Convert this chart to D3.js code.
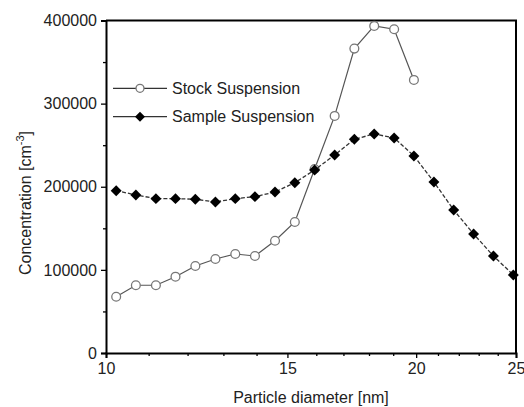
<!DOCTYPE html>
<html>
<head>
<meta charset="utf-8">
<script src="https://cdn.jsdelivr.net/npm/d3@7"></script>
<style>
  body { margin: 0; background: #fff; }
  svg { display: block; font-family: "Liberation Sans", Arial, sans-serif; }
</style>
</head>
<body>
<div id="chart"></div>
<script>
// particle diameters [nm] (log spaced channels)
const diameters = [10.23, 10.69, 11.18, 11.68, 12.21, 12.77, 13.35, 13.95, 14.59, 15.25,
                   15.94, 16.67, 17.42, 18.21, 19.04, 19.90, 20.81, 21.75, 22.74, 23.77, 24.85];
const stockValues = [67700, 81500, 81500, 91800, 104700, 113100, 119100, 116700, 135100, 157600,
                     221400, 285200, 366200, 393500, 389500, 328500];
const sampleValues = [195300, 190100, 185700, 185700, 185000, 181700, 185700, 188100, 193700, 204900,
                      220200, 238300, 257200, 263500, 258700, 237100, 205800, 172100, 143200, 116700, 93900];
const xTicks = [10, 15, 20, 25];
const xMinorTicks = [11, 12, 13, 14, 16, 17, 18, 19, 21, 22, 23, 24];
const yTicks = [0, 100000, 200000, 300000, 400000];
const yMinorTicks = [50000, 150000, 250000, 350000];

const W = 524, H = 407;
const margin = { top: 20.5, right: 8, bottom: 54, left: 106 };
const width = W - margin.left - margin.right;
const height = H - margin.top - margin.bottom;

const svg = d3.select("#chart").append("svg")
    .attr("width", W)
    .attr("height", H);

const g = svg.append("g")
    .attr("transform", `translate(${margin.left},${margin.top})`);

const x = d3.scaleLog().domain([10, 25]).range([0, width]);
const y = d3.scaleLinear().domain([0, 400000]).range([height, 0]);

const stock = stockValues.map((v, i) => ({ d: diameters[i], v }));
const sample = sampleValues.map((v, i) => ({ d: diameters[i], v }));

// frame (top + right)
g.append("path")
    .attr("d", `M0,0H${width}V${height}`)
    .attr("fill", "none")
    .attr("stroke", "#000")
    .attr("stroke-width", 2);

// x axis
const xAxis = g.append("g")
    .attr("transform", `translate(0,${height})`)
    .call(d3.axisBottom(x).tickValues(xTicks).tickFormat(d3.format("d")).tickSize(5).tickPadding(5));
g.append("g")
    .attr("transform", `translate(0,${height})`)
    .call(d3.axisBottom(x).tickValues(xMinorTicks).tickFormat("").tickSize(3).tickSizeOuter(0))
    .select(".domain").remove();

// y axis
const yAxis = g.append("g")
    .call(d3.axisLeft(y).tickValues(yTicks).tickFormat(d3.format("d")).tickSize(5).tickPadding(4));
g.append("g")
    .call(d3.axisLeft(y).tickValues(yMinorTicks).tickFormat("").tickSize(3).tickSizeOuter(0))
    .select(".domain").remove();

g.selectAll(".domain").attr("stroke-width", 2);
g.selectAll(".tick line").attr("stroke-width", 1.3);
g.selectAll(".tick text").attr("font-size", 16).attr("fill", "#222")
    .attr("font-family", "'Liberation Sans', Arial, sans-serif");

// stock suspension
const line = d3.line().x(d => x(d.d)).y(d => y(d.v));
g.append("path")
    .datum(stock)
    .attr("d", line)
    .attr("fill", "none")
    .attr("stroke", "#555")
    .attr("stroke-width", 1.2);
g.selectAll(".stock")
    .data(stock)
    .enter().append("circle")
    .attr("class", "stock")
    .attr("cx", d => x(d.d))
    .attr("cy", d => y(d.v))
    .attr("r", 4.4)
    .attr("fill", "#fff")
    .attr("stroke", "#777")
    .attr("stroke-width", 1.3);

// sample suspension
g.append("path")
    .datum(sample)
    .attr("d", line)
    .attr("fill", "none")
    .attr("stroke", "#333")
    .attr("stroke-width", 1.3)
    .attr("stroke-dasharray", "4,2");
const diamond = d3.symbol().type(d3.symbolSquare).size(60);
g.selectAll(".sample")
    .data(sample)
    .enter().append("path")
    .attr("class", "sample")
    .attr("d", diamond)
    .attr("transform", d => `translate(${x(d.d)},${y(d.v)}) rotate(45)`)
    .attr("fill", "#000");

// legend
const legend = svg.append("g").attr("font-size", 16).attr("fill", "#222");
const rows = [
    { label: "Stock Suspension", y: 88.3, type: "circle" },
    { label: "Sample Suspension", y: 116.7, type: "diamond" }
];
rows.forEach(r => {
    legend.append("line")
        .attr("x1", 113).attr("x2", 167)
        .attr("y1", r.y).attr("y2", r.y)
        .attr("stroke", "#333").attr("stroke-width", 1.3);
    if (r.type === "circle") {
        legend.append("circle")
            .attr("cx", 140).attr("cy", r.y).attr("r", 4)
            .attr("fill", "#fff").attr("stroke", "#777").attr("stroke-width", 1.3);
    } else {
        legend.append("path")
            .attr("d", d3.symbol().type(d3.symbolSquare).size(50))
            .attr("transform", `translate(140,${r.y}) rotate(45)`)
            .attr("fill", "#000");
    }
    legend.append("text")
        .attr("x", 172).attr("y", r.y)
        .attr("dy", "0.36em")
        .text(r.label);
});

// axis titles
svg.append("text")
    .attr("x", margin.left + width / 2)
    .attr("y", 403)
    .attr("text-anchor", "middle")
    .attr("font-size", 16)
    .attr("fill", "#222")
    .text("Particle diameter [nm]");

const yt = svg.append("text")
    .attr("transform", "translate(31,203) rotate(-90)")
    .attr("text-anchor", "middle")
    .attr("font-size", 16)
    .attr("fill", "#222");
yt.append("tspan").text("Concentration [cm");
yt.append("tspan").attr("font-size", 11).attr("dy", "-0.6em").text("-3");
yt.append("tspan").attr("dy", "0.4em").text("]");
</script>
</body>
</html>
